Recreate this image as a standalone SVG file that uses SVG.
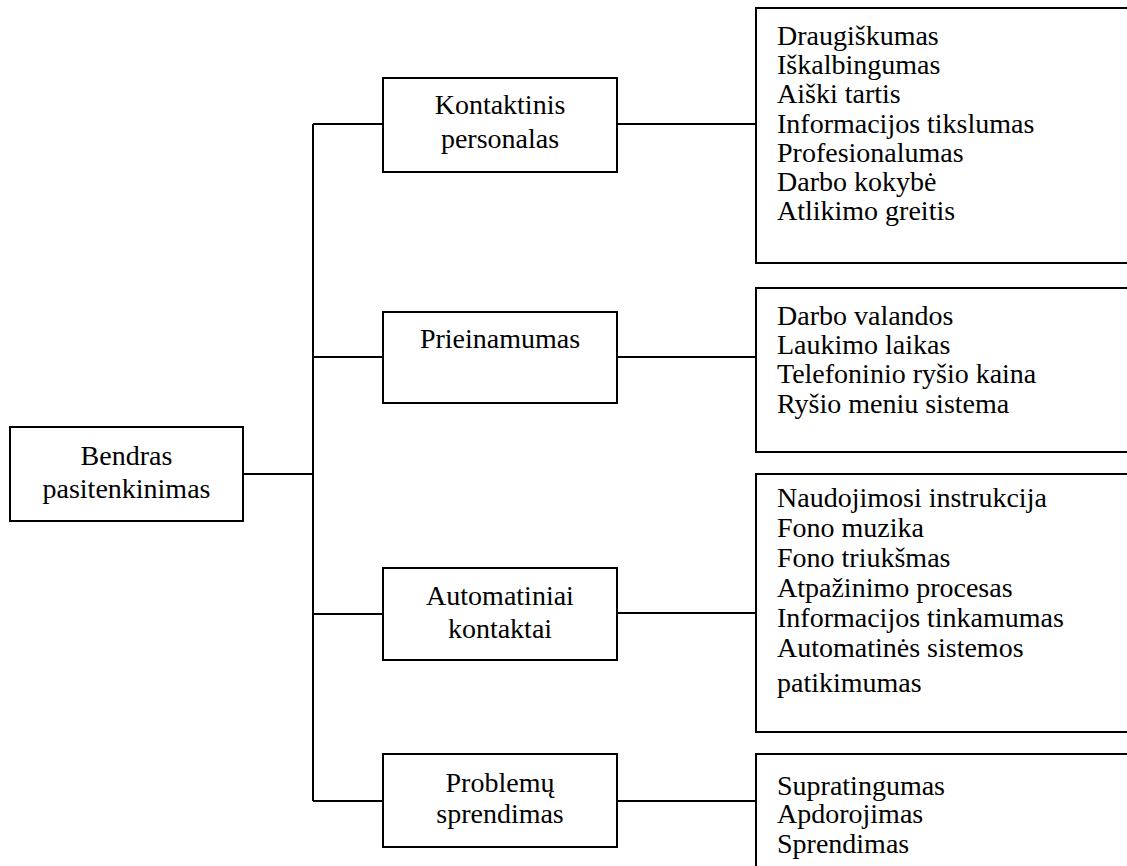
<svg xmlns="http://www.w3.org/2000/svg" width="1127" height="866" viewBox="0 0 1127 866">
<style>
.box{fill:#fff;stroke:#000;stroke-width:2}
.ln{fill:none;stroke:#000;stroke-width:2}
text{font-family:"Liberation Serif","Times New Roman",serif;font-size:28px;fill:#000}
.c{text-anchor:middle}
</style>
<rect width="1127" height="866" fill="#fff"/>
<g id="connectors">
<path class="ln" d="M313,124 V801"/>
<path class="ln" d="M243,474 H313"/>
<path class="ln" d="M313,124 H383 M313,357 H383 M313,614 H383 M313,801 H383"/>
<path class="ln" d="M617,124 H756 M617,357 H756 M617,613 H756 M617,801 H756"/>
</g>
<g id="bendras">
<rect class="box" x="10" y="427" width="233" height="94"/>
<text class="c" x="126.5" y="465">Bendras</text>
<text class="c" x="126.5" y="498">pasitenkinimas</text>
</g>
<g id="kontaktinis">
<rect class="box" x="383" y="78" width="234" height="94"/>
<text class="c" x="500" y="114">Kontaktinis</text>
<text class="c" x="500" y="148">personalas</text>
</g>
<g id="prieinamumas">
<rect class="box" x="383" y="312" width="234" height="91"/>
<text class="c" x="500" y="348">Prieinamumas</text>
</g>
<g id="automatiniai">
<rect class="box" x="383" y="568" width="234" height="92"/>
<text class="c" x="500" y="605">Automatiniai</text>
<text class="c" x="500" y="638">kontaktai</text>
</g>
<g id="problemu">
<rect class="box" x="383" y="754" width="234" height="93"/>
<text class="c" x="500" y="792">Problemų</text>
<text class="c" x="500" y="823">sprendimas</text>
</g>
<g id="list1">
<rect class="box" x="756" y="8" width="380" height="255"/>
<text x="777" y="45">Draugiškumas</text>
<text x="777" y="74">Iškalbingumas</text>
<text x="777" y="103">Aiški tartis</text>
<text x="777" y="133">Informacijos tikslumas</text>
<text x="777" y="162">Profesionalumas</text>
<text x="777" y="191">Darbo kokybė</text>
<text x="777" y="220">Atlikimo greitis</text>
</g>
<g id="list2">
<rect class="box" x="756" y="288" width="380" height="164"/>
<text x="777" y="325">Darbo valandos</text>
<text x="777" y="354">Laukimo laikas</text>
<text x="777" y="383">Telefoninio ryšio kaina</text>
<text x="777" y="413">Ryšio meniu sistema</text>
</g>
<g id="list3">
<rect class="box" x="756" y="474" width="380" height="258"/>
<text x="777" y="507">Naudojimosi instrukcija</text>
<text x="777" y="537">Fono muzika</text>
<text x="777" y="567">Fono triukšmas</text>
<text x="777" y="597">Atpažinimo procesas</text>
<text x="777" y="627">Informacijos tinkamumas</text>
<text x="777" y="657">Automatinės sistemos</text>
<text x="777" y="692">patikimumas</text>
</g>
<g id="list4">
<rect class="box" x="756" y="754" width="380" height="130"/>
<text x="777" y="795">Supratingumas</text>
<text x="777" y="823">Apdorojimas</text>
<text x="777" y="853">Sprendimas</text>
</g>
</svg>
